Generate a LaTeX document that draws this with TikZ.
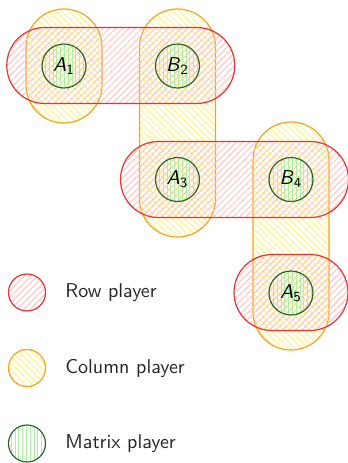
\documentclass[tikz,border=0pt]{standalone}
\usetikzlibrary{patterns.meta}
\definecolor{rowline}{RGB}{228,52,52}
\definecolor{rowhatch}{RGB}{255,196,196}
\definecolor{colline}{RGB}{240,164,40}
\definecolor{colhatch}{RGB}{255,244,130}
\definecolor{matline}{RGB}{40,105,40}
\definecolor{mathatch}{RGB}{175,240,165}
\begin{document}
\begin{tikzpicture}[x=0.5pt,y=-0.5pt,
  every node/.style={font=\sffamily},
  rowpl/.style={rectangle, draw=rowline, line width=0.6pt, rounded corners=19pt,
    minimum height=38pt, inner sep=0pt,
    pattern={Lines[angle=45,distance=2.3pt,line width=0.5pt]}, pattern color=rowhatch},
  colpl/.style={rectangle, draw=colline, line width=0.6pt, rounded corners=19pt,
    minimum width=38pt, inner sep=0pt,
    pattern={Lines[angle=-45,distance=2.3pt,line width=0.5pt]}, pattern color=colhatch},
  matpl/.style={circle, draw=matline, line width=0.6pt, minimum size=22pt, inner sep=0pt,
    pattern={Lines[angle=90,distance=1.9pt,line width=0.5pt]}, pattern color=mathatch},
  legcirc/.style={circle, minimum size=18.5pt, inner sep=0pt},
  legtext/.style={anchor=west, inner sep=0pt, text=black!85}]
\useasboundingbox (0,0) rectangle (348,463);

% column players
\node[colpl, minimum height=57pt] (c1) at (64,66) {};
\node[colpl, minimum height=114pt] (c2) at (177.5,123) {};
\node[colpl, minimum height=114pt] (c3) at (291,236) {};

% row players
\node[rowpl, minimum width=114pt] (r1) at (120.75,65.5) {};
\node[rowpl, minimum width=114pt] (r2) at (234.5,179.5) {};
\node[rowpl, minimum width=57pt] (r3) at (291,292.5) {};

% matrix players
\node[matpl] (a1) at (64,66) {\textit{A}$_{\textsf{\scriptsize 1}}$};
\node[matpl] (b2) at (177.5,66) {\textit{B}$_{\textsf{\scriptsize 2}}$};
\node[matpl] (a3) at (177.5,179.5) {\textit{A}$_{\textsf{\scriptsize 3}}$};
\node[matpl] (b4) at (291,179.5) {\textit{B}$_{\textsf{\scriptsize 4}}$};
\node[matpl] (a5) at (291,293) {\textit{A}$_{\textsf{\scriptsize 5}}$};

% legend
\node[rowpl, legcirc, rounded corners=0pt] (l1) at (27,292.5) {};
\node[colpl, legcirc, rounded corners=0pt] (l2) at (27,368) {};
\node[matpl, legcirc] (l3) at (27,443.5) {};
\node[legtext] (t1) at (65,292.5) {Row player};
\node[legtext] (t2) at (65,368) {Column player};
\node[legtext] (t3) at (65,443.5) {Matrix player};
\end{tikzpicture}
\end{document}
